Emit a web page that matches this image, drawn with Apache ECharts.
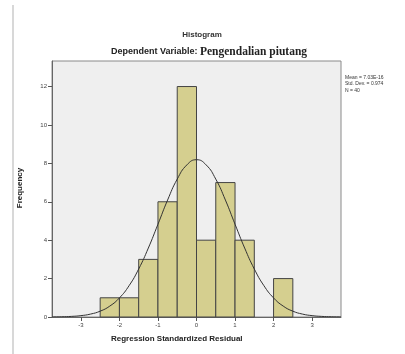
<!DOCTYPE html>
<html><head><meta charset="utf-8">
<script src="https://cdn.jsdelivr.net/npm/echarts@6/dist/echarts.min.js"></script>
<style>html,body{margin:0;padding:0;background:#fff}#c{width:405px;height:354px}</style>
</head><body><div id="c"></div>
<script>
// Histogram bins (lower edge, upper edge) and frequencies
const binStart = [-2.5, -2.0, -1.5, -1.0, -0.5, 0.0, 0.5, 1.0, 2.0];
const binEnd   = [-2.0, -1.5, -1.0, -0.5,  0.0, 0.5, 1.0, 1.5, 2.5];
const counts   = [1, 1, 3, 6, 12, 4, 7, 4, 2];
// Normal curve
const curveX = [-3.75,-3.5,-3.25,-3,-2.75,-2.5,-2.25,-2,-1.75,-1.5,-1.25,-1,-0.75,-0.5,-0.25,0,0.25,0.5,0.75,1,1.25,1.5,1.75,2,2.25,2.5,2.75,3,3.25,3.5,3.75];
const curveY = [0.005,0.013,0.031,0.071,0.152,0.304,0.568,0.994,1.63,2.50,3.59,4.83,6.09,7.18,7.92,8.19,7.92,7.18,6.09,4.83,3.59,2.50,1.63,0.994,0.568,0.304,0.152,0.071,0.031,0.013,0.005];
const xTicks = [-3, -2, -1, 0, 1, 2, 3];
const yTicks = [0, 2, 4, 6, 8, 10, 12];
const statsLines = ['Mean = 7.03E-16', 'Std. Dev. = 0.974', 'N = 40'];

const chart = echarts.init(document.getElementById('c'));
const barData = binStart.map((s, i) => [s, binEnd[i], counts[i]]);
const curveData = curveX.map((x, i) => [x, curveY[i]]);

chart.setOption({
  animation: false,
  title: [
    {text: 'Histogram', left: 197, top: 26, textAlign: 'center',
     textStyle: {fontSize: 8, fontWeight: 'bold', color: '#333', fontFamily: 'Liberation Sans'}},
    {text: '{a|Dependent Variable: }{b|Pengendalian piutang}', left: 204, top: 41, textAlign: 'center',
     textStyle: {rich: {
       a: {fontSize: 9, fontWeight: 'bold', color: '#222', fontFamily: 'Liberation Sans'},
       b: {fontSize: 11.5, fontWeight: 'bold', color: '#222', fontFamily: 'Liberation Serif'}
     }}}
  ],
  graphic: [
    {type: 'line', shape: {x1: 13, y1: 5, x2: 13, y2: 354}, style: {stroke: '#d8d8d8', lineWidth: 2}},
    {type: 'text', left: 345, top: 74, style: {text: statsLines.join('\n'), fontSize: 5, lineHeight: 6.5, fill: '#333', fontFamily: 'Liberation Sans'}},
    {type: 'text', left: 111, top: 335, style: {text: 'Regression Standardized Residual', fontSize: 8, fontWeight: 'bold', fill: '#222', fontFamily: 'Liberation Sans'}},
    {type: 'text', x: 20, y: 188, rotation: Math.PI / 2, style: {text: 'Frequency', fontSize: 8, fontWeight: 'bold', fill: '#222', fontFamily: 'Liberation Sans', align: 'center', verticalAlign: 'middle'}}
  ],
  grid: {left: 52, top: 61, width: 289, height: 256, show: true, backgroundColor: '#efefef', borderColor: '#8a8a8a', borderWidth: 1},
  xAxis: {
    type: 'value', min: -3.75, max: 3.75,
    splitLine: {show: false},
    axisLine: {show: true, onZero: false, lineStyle: {color: '#666'}},
    axisTick: {show: true, length: 4, inside: false, customValues: xTicks, lineStyle: {color: '#555'}},
    axisLabel: {customValues: xTicks, fontSize: 6, color: '#444', margin: 5, fontFamily: 'Liberation Sans'}
  },
  yAxis: {
    type: 'value', min: 0, max: 13.33,
    splitLine: {show: false},
    axisLine: {show: true, onZero: false, lineStyle: {color: '#666'}},
    axisTick: {show: true, length: 4, customValues: yTicks, lineStyle: {color: '#555'}},
    axisLabel: {customValues: yTicks, fontSize: 6, color: '#444', margin: 5, fontFamily: 'Liberation Sans'}
  },
  series: [
    {
      type: 'custom',
      data: barData,
      encode: {x: [0, 1], y: 2},
      renderItem: function (params, api) {
        const p0 = api.coord([api.value(0), 0]);
        const p1 = api.coord([api.value(1), api.value(2)]);
        return {
          type: 'rect',
          shape: {x: p0[0], y: p1[1], width: p1[0] - p0[0], height: p0[1] - p1[1]},
          style: {fill: '#d5cf8f', stroke: '#444', lineWidth: 1}
        };
      }
    },
    {
      type: 'line', data: curveData, smooth: true, showSymbol: false,
      lineStyle: {color: '#333', width: 1}, z: 5
    }
  ]
});
</script></body></html>
